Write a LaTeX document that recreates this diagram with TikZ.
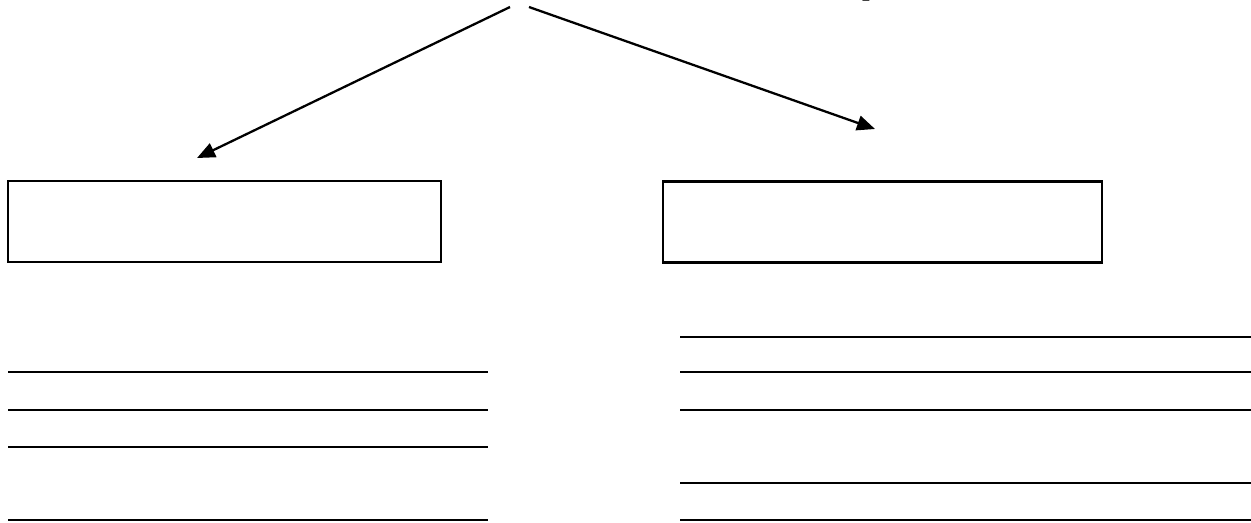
\documentclass[tikz,border=0pt]{standalone}
\usepackage{fontspec}
\setmainfont{Liberation Serif}
\usetikzlibrary{calc}
\usetikzlibrary{arrows.meta}

\begin{document}
\begin{tikzpicture}[x=0.02cm,y=-0.02cm,
   box/.style={draw,rectangle,line width=1.4pt,minimum height=1.62cm,inner sep=0pt},
   blank/.style={line width=1pt},
   >={Triangle[length=3.6mm,width=3mm]}]
\clip (0,0) rectangle (1251,522);
\useasboundingbox (0,0) rectangle (1251,522);
\node[anchor=base west,inner sep=0pt,font=\fontsize{18}{20}\selectfont\itshape] (word) at (864,-6) {p};
\coordinate (fromL) at (510,7);
\coordinate (fromR) at (529,7);
\node[box,minimum width=8.66cm] (left) at (224.5,221.5) {};
\node[box,minimum width=8.78cm] (right) at (882.5,222) {};
\coordinate (tipL) at (197,158);
\coordinate (tipR) at (875,129);
\draw[->,line width=1.3pt] (fromL) -- (tipL);
\draw[->,line width=1.3pt] (fromR) -- (tipR);
% lines to write on
\foreach \y in {372,410,447,520}
  \draw[blank] (8,\y) -- (488,\y);
\foreach \y in {337,372,410,483,520}
  \draw[blank] (680,\y) -- (1251,\y);
\draw[line width=1.3pt] (1113,337) -- (1251,337);
\end{tikzpicture}
\end{document}
